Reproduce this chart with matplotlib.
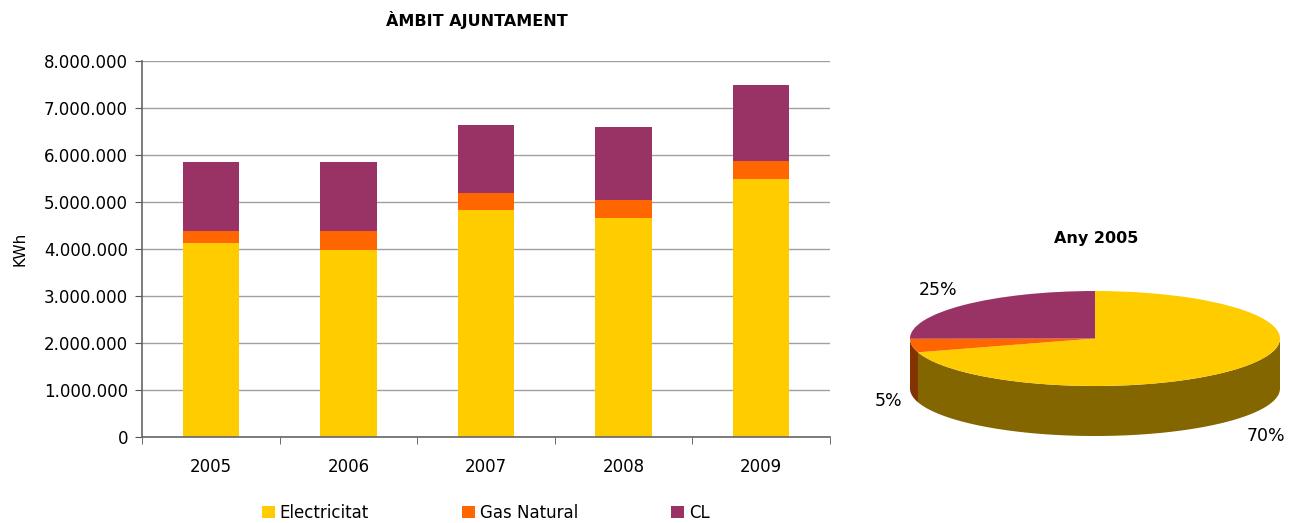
import numpy as np
import matplotlib
matplotlib.use("Agg")
import matplotlib.pyplot as plt
from matplotlib.patches import Wedge, Polygon
from matplotlib.transforms import Affine2D
from matplotlib.ticker import FuncFormatter

years = ["2005", "2006", "2007", "2008", "2009"]
electricitat = [4120000, 3970000, 4840000, 4650000, 5500000]
gas_natural = [270000, 420000, 360000, 400000, 380000]
cl = [1470000, 1470000, 1440000, 1550000, 1610000]
series_names = ["Electricitat", "Gas Natural", "CL"]
pie_year_index = 0

colors = ["#FFCC00", "#FF6600", "#993366"]
side_colors = ["#836600", "#833300", "#4d1a33"]

plt.rcParams['font.family'] = ['DejaVu Sans']
W, H = 1300, 523
fig = plt.figure(figsize=(W / 100, H / 100), dpi=100)

# ---------- bar chart ----------
ax = fig.add_axes([142 / W, 1 - 437 / H, (830 - 142) / W, (437 - 61) / H])
x = np.arange(len(years))
bw = 0.41
b1 = ax.bar(x, electricitat, bw, color=colors[0], zorder=3)
bottom2 = np.array(electricitat)
b2 = ax.bar(x, gas_natural, bw, bottom=bottom2, color=colors[1], zorder=3)
bottom3 = bottom2 + np.array(gas_natural)
b3 = ax.bar(x, cl, bw, bottom=bottom3, color=colors[2], zorder=3)

ax.set_xlim(-0.5, len(years) - 0.5)
ax.set_ylim(0, 8000000)
ax.set_yticks(np.arange(0, 8000001, 1000000))
ax.yaxis.set_major_formatter(FuncFormatter(lambda v, p: f"{int(v):,}".replace(",", ".")))
ax.set_xticks(x)
ax.set_xticklabels(years)
ax.set_xticks(np.arange(-0.5, len(years), 1.0), minor=True)
ax.tick_params(axis='x', which='major', length=0, pad=15, labelsize=12)
ax.tick_params(axis='x', which='minor', length=5, color='#555555', direction='out')
ax.tick_params(axis='y', length=5, color='#555555', direction='out', pad=5, labelsize=12)
ax.grid(axis='y', color='#a0a0a0', lw=1, zorder=0)
for s in ['top', 'right']:
    ax.spines[s].set_visible(False)
for s in ['left', 'bottom']:
    ax.spines[s].set_color('#666666')
    ax.spines[s].set_linewidth(1.2)
    ax.spines[s].set_zorder(4)
ax.set_ylabel("KWh", fontsize=11, labelpad=12)
fig.text(477 / W, 1 - 20 / H, "ÀMBIT AJUNTAMENT", ha='center', va='center',
         fontsize=11.5, fontweight='bold')

# legend
fig.legend([b1, b2, b3], series_names, loc='center', bbox_to_anchor=(486 / W, 1 - 513 / H),
           ncol=3, frameon=False, fontsize=12, handlelength=0.75, handleheight=0.75,
           handletextpad=0.3, columnspacing=5.6)

# ---------- 3D-like pie ----------
pax = fig.add_axes([0, 0, 1, 1], facecolor='none')
pax.set_xlim(0, W)
pax.set_ylim(H, 0)
pax.axis('off')

vals = np.array([electricitat[pie_year_index], gas_natural[pie_year_index], cl[pie_year_index]], float)
fr = vals / vals.sum()
cx, cy, a, b, depth = 1095, 338.5, 185, 47.5, 50

def pt(theta_deg, dy=0.0):
    t = np.deg2rad(theta_deg)
    return cx + a * np.cos(t), cy - b * np.sin(t) + dy

# angles: clockwise from 90
starts = []
ang = 90.0
for f in fr:
    starts.append((ang - 360 * f, ang))
    ang -= 360 * f

# side faces (front half)
for i, (t1, t2) in enumerate(starts):
    lo, hi = t1 % 360, t1 % 360 + (t2 - t1)
    for seg_lo, seg_hi in [(180, 360), (540, 720)]:
        s_lo, s_hi = max(lo, seg_lo), min(hi, seg_hi)
        if s_hi > s_lo:
            th = np.linspace(s_lo, s_hi, 100)
            top = [pt(t) for t in th]
            bot = [pt(t, depth) for t in th[::-1]]
            pax.add_patch(Polygon(top + bot, closed=True, facecolor=side_colors[i],
                                  edgecolor='none', zorder=2))

# top faces
tr = Affine2D().scale(a, -b).translate(cx, cy) + pax.transData
for i, (t1, t2) in enumerate(starts):
    pax.add_patch(Wedge((0, 0), 1, t1, t2, facecolor=colors[i], edgecolor='none',
                        transform=tr, zorder=3))

pax.text(1096, 238, f"Any {years[pie_year_index]}", ha='center', va='center',
         fontsize=11.5, fontweight='bold')
label_pos = [(1266, 436), (889, 401), (938, 290)]
for i, (lx, ly) in enumerate(label_pos):
    pax.text(lx, ly, f"{fr[i] * 100:.0f}%", ha='center', va='center', fontsize=12.5)

fig.savefig("out.png", dpi=100)
